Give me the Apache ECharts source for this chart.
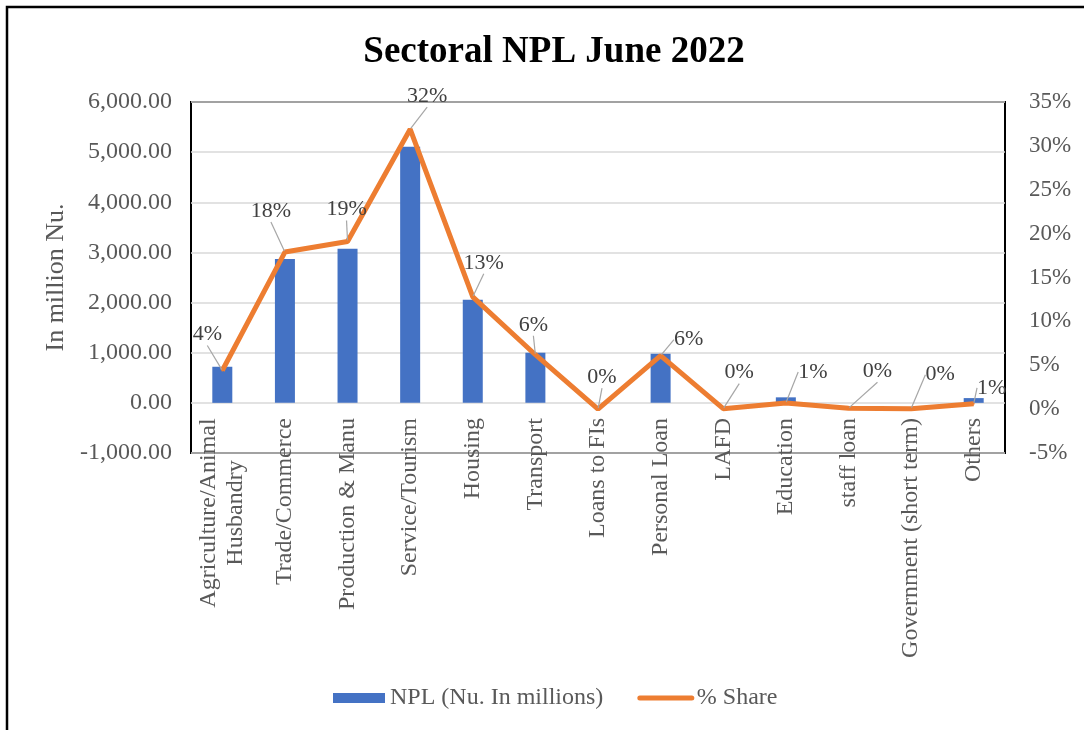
<!DOCTYPE html>
<html>
<head>
<meta charset="utf-8">
<title>Sectoral NPL June 2022</title>
<script src="https://cdn.jsdelivr.net/npm/echarts@6/dist/echarts.min.js"></script>
<style>
    html, body { margin: 0; padding: 0; background: #fff; }
    #npl-chart { width: 1084px; height: 730px; }
</style>
</head>
<body>
<div id="npl-chart"></div>
<script>
    const sectors = ['Agriculture/Animal Husbandry', 'Trade/Commerce', 'Production & Manu', 'Service/Tourism',
        'Housing', 'Transport', 'Loans to FIs', 'Personal Loan', 'LAFD', 'Education', 'staff loan',
        'Government (short term)', 'Others']
    // NPL in million Nu.
    const nplValues = [720, 2870, 3075, 5110, 2058, 1000, 0, 980, 0, 110, 0, 0, 95]
    // share of total NPL, %
    const shareValues = [4.4, 17.9, 19.1, 31.9, 12.8, 6.2, 0.0, 6.1, 0.05, 0.7, 0.1, 0.05, 0.6]
    const leftTicks = [-1000, 6000, 1000]
    const rightTicks = [-5, 35, 5]

    // where each % label sits relative to its point (px)
    const labelShift = [[-15, -36], [-14, -41], [-1, -32], [17, -33], [11, -34], [-2, -30], [4, -32],
        [28, -16], [16, -36], [27, -31], [29, -37], [29, -34], [18, -16]]

    const font = 'Liberation Serif'
    const grey = '#595959'

    const myChart = echarts.init(document.getElementById('npl-chart'))
    myChart.setOption({
        textStyle: { fontFamily: font },
        graphic: [{
            type: 'rect',
            shape: { x: 7, y: 7, width: 1200, height: 900 },
            style: { fill: 'none', stroke: '#000', lineWidth: 2.5 },
            silent: true
        }],
        title: {
            text: 'Sectoral NPL June 2022',
            left: 549,
            textAlign: 'center',
            top: 29,
            textStyle: { fontFamily: font, fontSize: 37, fontWeight: 'bold', color: '#000' }
        },
        legend: {
            left: 328,
            top: 681,
            itemWidth: 52,
            itemHeight: 10,
            itemGap: 34,
            textStyle: { fontFamily: font, fontSize: 24, color: grey },
            data: [
                { name: 'NPL (Nu. In millions)', icon: 'rect' },
                { name: '% Share', itemStyle: { opacity: 0 }, lineStyle: { width: 5, cap: 'round' } }
            ]
        },
        grid: {
            left: 191,
            right: 79,
            top: 102,
            bottom: 277,
            show: true,
            borderColor: '#000',
            borderWidth: 2,
            containLabel: false
        },
        xAxis: {
            type: 'category',
            data: sectors,
            axisLine: { show: false },
            axisTick: { show: false },
            axisLabel: {
                interval: 0,
                rotate: 90,
                margin: -35,
                fontFamily: font,
                fontSize: 24,
                color: grey,
                formatter: (v, i) => i === 0 ? '{w|Agriculture/Animal}\n{w|Husbandry}' : v,
                rich: {
                    w: { width: 190, align: 'center', fontFamily: font, fontSize: 24, color: grey, lineHeight: 27 }
                }
            }
        },
        yAxis: [{
            type: 'value',
            min: leftTicks[0],
            max: leftTicks[1],
            interval: leftTicks[2],
            name: 'In million Nu.',
            nameLocation: 'middle',
            nameGap: 118,
            nameTextStyle: { fontFamily: font, fontSize: 26, color: grey },
            axisLine: { show: false },
            axisTick: { show: false },
            axisLabel: {
                margin: 19,
                fontFamily: font,
                fontSize: 24,
                color: grey,
                formatter: v => v.toLocaleString('en-US', { minimumFractionDigits: 2, maximumFractionDigits: 2 })
            },
            splitLine: { lineStyle: { color: '#d9d9d9', width: 1.5 } }
        }, {
            type: 'value',
            position: 'right',
            min: rightTicks[0],
            max: rightTicks[1],
            interval: rightTicks[2],
            axisLine: { show: false },
            axisTick: { show: false },
            splitLine: { show: false },
            axisLabel: {
                margin: 24,
                fontFamily: font,
                fontSize: 23,
                color: grey,
                formatter: v => v + '%'
            }
        }],
        series: [{
            name: 'NPL (Nu. In millions)',
            type: 'bar',
            yAxisIndex: 0,
            barWidth: 20,
            itemStyle: { color: '#4472C4' },
            data: nplValues
        }, {
            name: '% Share',
            type: 'line',
            yAxisIndex: 1,
            symbol: 'circle',
            symbolSize: 2,
            itemStyle: { color: '#ED7D31' },
            lineStyle: { color: '#ED7D31', width: 5 },
            data: shareValues,
            label: {
                show: true,
                position: 'inside',
                fontFamily: font,
                fontSize: 22,
                color: '#404040',
                formatter: p => Math.round(p.value) + '%'
            },
            labelLine: {
                show: true,
                lineStyle: { color: '#a6a6a6', width: 1.2 }
            },
            labelLayout: params => ({
                dx: labelShift[params.dataIndex][0],
                dy: labelShift[params.dataIndex][1]
            }),
            z: 3
        }]
    })
    window.addEventListener('resize', () => {
        if (myChart) myChart.resize()
    })
</script>
</body>
</html>
